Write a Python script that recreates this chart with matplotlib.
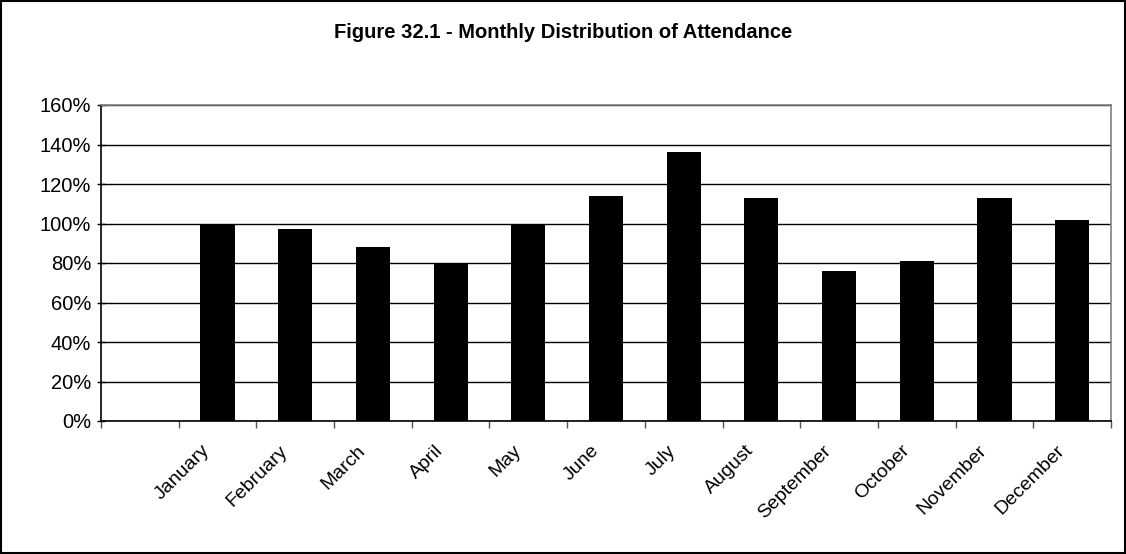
import matplotlib.pyplot as plt
import numpy as np
from matplotlib.patches import Rectangle
from matplotlib.transforms import ScaledTranslation

plt.rcParams['font.family'] = ['Liberation Sans', 'DejaVu Sans']

# Monthly attendance as a share of the average month (%)
months = ['January', 'February', 'March', 'April', 'May', 'June',
          'July', 'August', 'September', 'October', 'November', 'December']
attendance = [100, 97, 88, 80, 100, 114, 136, 113, 76, 81, 113, 102]

# Category axis has a leading blank slot before January
categories = [''] + months
values = [np.nan] + attendance

fig = plt.figure(figsize=(11.26, 5.54), dpi=100)
ax = fig.add_axes([101 / 1126, 1 - 421 / 554, 1010 / 1126, 316 / 554])

x = np.arange(len(categories))
ax.bar(x, values, width=0.44, color='black', zorder=3)

ax.set_xlim(-0.5, len(categories) - 0.5)
ax.set_ylim(0, 160)
ax.set_yticks(np.arange(0, 161, 20))
ax.set_yticklabels([f'{v}%' for v in range(0, 161, 20)], fontsize=14.5)
ax.yaxis.grid(True, color='black', linewidth=1, zorder=1)

# Ticks sit on category boundaries, labels at category centres
ax.set_xticks(np.arange(-0.5, len(categories), 1.0))
ax.set_xticklabels([])
ax.set_xticks(x, minor=True)
ax.set_xticklabels(categories, minor=True, rotation=45, ha='right', va='center',
                   rotation_mode='anchor', fontsize=14)
ax.tick_params(axis='x', which='minor', length=0, pad=0)
ax.tick_params(axis='x', which='major', length=5, width=1, color='#555555')
ax.tick_params(axis='y', length=6, width=1, pad=4, direction='inout')

# nudge the slanted month names down and left of the slot centre
shift = ScaledTranslation(-10 / 100, -27 / 100, fig.dpi_scale_trans)
for lbl in ax.get_xticklabels(minor=True):
    lbl.set_transform(lbl.get_transform() + shift)

for side in ['left', 'bottom']:
    ax.spines[side].set_color('black')
    ax.spines[side].set_linewidth(1.2)
for side in ['top', 'right']:
    ax.spines[side].set_color('#808080')
    ax.spines[side].set_linewidth(1.2)

fig.text(0.5, 1 - 32 / 554, 'Figure 32.1 - Monthly Distribution of Attendance',
         ha='center', va='center', fontsize=14.5, fontweight='bold')

# Outer frame around the whole chart
fig.patches.append(Rectangle((0.001, 0.002), 0.998, 0.996, transform=fig.transFigure,
                             fill=False, edgecolor='black', linewidth=1.5))

fig.savefig('out.png', dpi=100)
